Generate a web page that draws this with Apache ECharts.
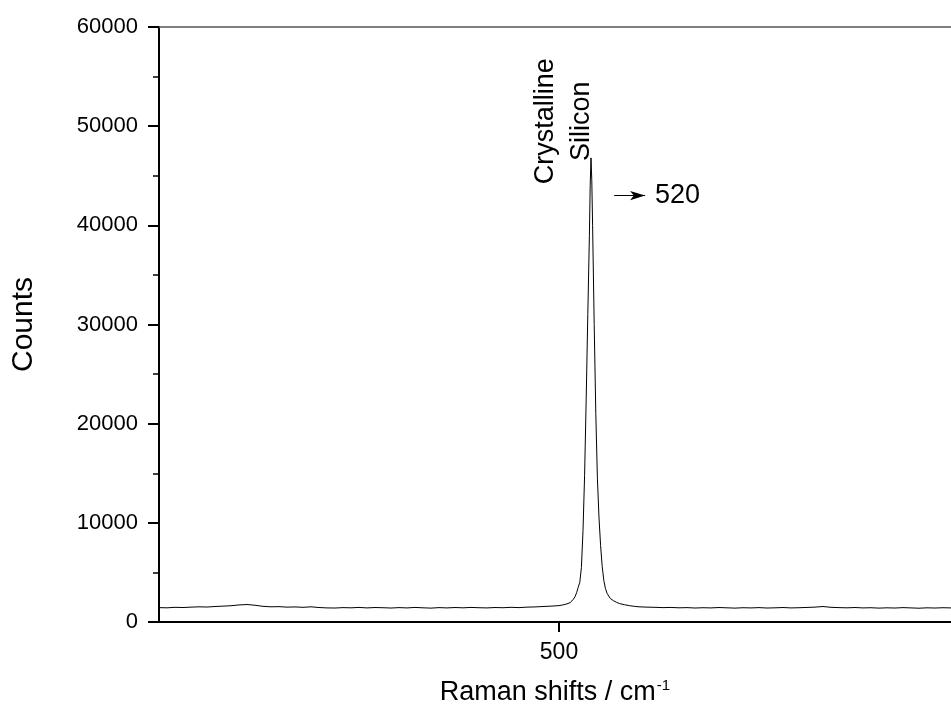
<!DOCTYPE html>
<html>
<head>
<meta charset="utf-8">
<title>Raman spectrum</title>
<script src="https://cdn.jsdelivr.net/npm/echarts@6/dist/echarts.min.js"></script>
<style>
  html, body { margin: 0; padding: 0; background: #fff; }
  #chart { width: 951px; height: 710px; }
</style>
</head>
<body>
<div id="chart"></div>
<script>
// Raman shift (cm^-1) and detector counts, left baseline, Si peak, right baseline
const shiftsLeft = [250,255,260,265,270,275,280,285,290,295,300,305,310,315,320,325,330,335,340,345,350,355,360,365,370,375,380,385,390,395,400,405,410,415,420,425,430,435,440,445,450,455,460,465,470,475,480,485,490,495];
const countsLeft = [1450,1430,1480,1460,1500,1530,1510,1560,1600,1640,1720,1760,1690,1580,1530,1550,1500,1520,1480,1530,1460,1420,1410,1450,1430,1470,1420,1460,1440,1410,1450,1420,1470,1430,1400,1450,1420,1460,1430,1470,1440,1420,1460,1440,1480,1450,1500,1520,1560,1600];

const shiftsPeak = [500,503,505,507,508,509,510,511,512,513,514,515,516,517,518,519,519.5,520,520.5,521,522,523,524,525,526,527,528,529,530,532,534,536,538,541,544,547,550];
const countsPeak = [1650,1740,1830,1950,2100,2300,2550,2950,3500,4000,5500,9200,14800,22500,31000,39000,44000,46800,44500,40000,30000,21000,14500,10500,7700,5600,4200,3400,2900,2380,2150,1980,1850,1740,1650,1580,1530];

const shiftsRight = [555,560,565,570,575,580,585,590,595,600,605,610,615,620,625,630,635,640,645,650,655,660,665,670,675,680,685,690,695,700,705,710,715,720,725,730,735,740,745];
const countsRight = [1500,1480,1450,1470,1430,1450,1410,1440,1420,1460,1430,1400,1440,1420,1450,1410,1430,1460,1420,1440,1470,1500,1560,1480,1450,1430,1460,1420,1440,1400,1430,1410,1450,1420,1390,1430,1410,1440,1420];

const yTicks = [0, 10000, 20000, 30000, 40000, 50000, 60000];
const xTickLabels = [500];
const peakShift = 520;
const peakLabels = ['Crystalline', 'Silicon'];

const shifts = shiftsLeft.concat(shiftsPeak, shiftsRight);
const counts = countsLeft.concat(countsPeak, countsRight);
const spectrum = shifts.map((s, i) => [s, counts[i]]);

const FONT = '"Liberation Sans", Arial, sans-serif';
const chart = echarts.init(document.getElementById('chart'), null, { renderer: 'canvas' });

chart.setOption({
  animation: false,
  backgroundColor: '#ffffff',
  grid: { left: 159, right: 0, top: 27, bottom: 88, outerBoundsMode: 'none', containLabel: false },
  xAxis: [{
    type: 'value',
    min: 250,
    max: 745,
    position: 'bottom',
    name: 'Raman shifts / cm{sup|-1}',
    nameLocation: 'middle',
    nameGap: 56,
    nameTextStyle: {
      fontFamily: FONT, fontSize: 27, color: '#000',
      rich: { sup: { fontFamily: FONT, fontSize: 15, color: '#000', verticalAlign: 'top', padding: [0, 0, 15, 1] } }
    },
    axisLine: { show: true, onZero: false, lineStyle: { color: '#000', width: 2 } },
    axisTick: { show: true, inside: false, length: 10, customValues: xTickLabels, lineStyle: { color: '#000', width: 2 } },
    axisLabel: { show: true, customValues: xTickLabels, margin: 19, fontFamily: FONT, fontSize: 23, color: '#000' },
    splitLine: { show: false }
  }, {
    type: 'value',
    min: 250,
    max: 745,
    position: 'top',
    axisLine: { show: true, onZero: false, lineStyle: { color: '#555', width: 1.5 } },
    axisTick: { show: false },
    axisLabel: { show: false },
    splitLine: { show: false }
  }],
  yAxis: {
    type: 'value',
    min: yTicks[0],
    max: yTicks[yTicks.length - 1],
    interval: yTicks[1] - yTicks[0],
    name: 'Counts',
    nameLocation: 'middle',
    nameGap: 120,
    nameTextStyle: { fontFamily: FONT, fontSize: 30, color: '#000' },
    axisLine: { show: true, onZero: false, lineStyle: { color: '#000', width: 2 } },
    axisTick: { show: true, inside: false, length: 11, lineStyle: { color: '#000', width: 2 } },
    minorTick: { show: true, splitNumber: 2, length: 6, lineStyle: { color: '#000', width: 1.5 } },
    axisLabel: { margin: 21, fontFamily: FONT, fontSize: 22, color: '#000', formatter: v => String(v) },
    splitLine: { show: false }
  },
  series: [{
    type: 'line',
    data: spectrum,
    showSymbol: false,
    symbol: 'none',
    smooth: false,
    lineStyle: { color: '#000', width: 1 },
    markLine: {
      silent: true,
      symbol: ['none', 'arrow'],
      symbolSize: [7, 15],
      lineStyle: { color: '#000', width: 1, type: 'solid' },
      label: {
        show: true,
        position: 'end',
        distance: 10,
        formatter: String(peakShift),
        fontFamily: FONT, fontSize: 27, color: '#000'
      },
      data: [[{ coord: [534.5, 43000] }, { coord: [553.8, 43000] }]]
    }
  }]
});

// vertical peak annotation, placed in data space beside the peak
const anchors = [
  { text: peakLabels[0], coord: [491.9, 50500] },
  { text: peakLabels[1], coord: [514.4, 50500] }
];
chart.setOption({
  graphic: anchors.map(a => {
    const p = chart.convertToPixel({ gridIndex: 0 }, a.coord);
    return {
      type: 'text',
      x: p[0], y: p[1],
      rotation: Math.PI / 2,
      style: {
        text: a.text,
        fontFamily: FONT, fontSize: 27, fill: '#000',
        align: 'center', verticalAlign: 'middle'
      }
    };
  })
});
</script>
</body>
</html>
